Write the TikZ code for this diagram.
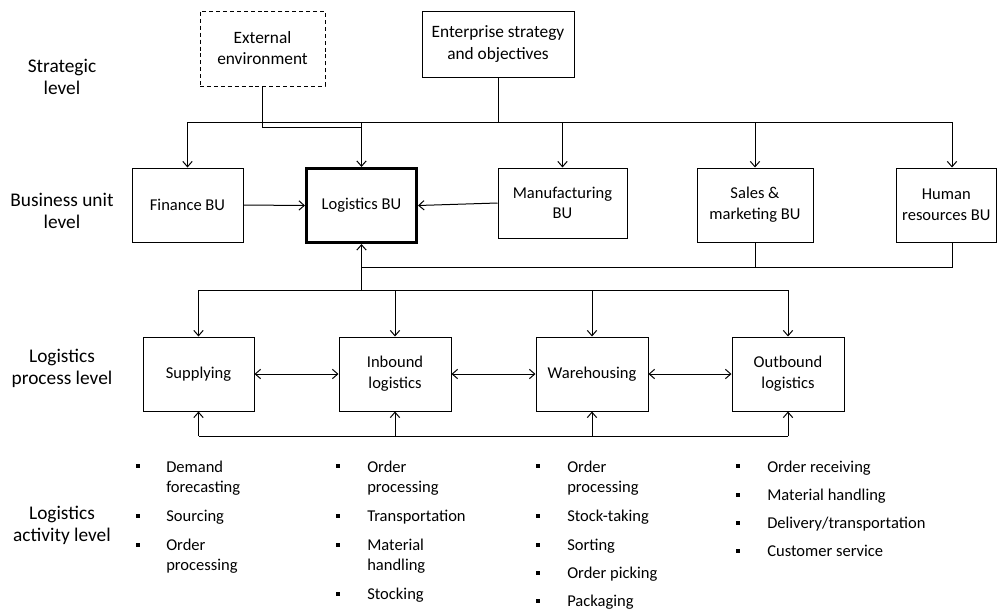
\documentclass[tikz,border=0pt]{standalone}
\usepackage{fontspec}
\setmainfont{Carlito}
\usetikzlibrary{arrows.meta}
\begin{document}
\begin{tikzpicture}[x=0.75pt,y=-0.75pt,
  every node/.style={font=\fontsize{12.4}{15.5}\selectfont},
  box/.style={draw, line width=0.75pt, align=center, inner sep=0pt},
  bx/.style 2 args={minimum width=#1*0.75pt, minimum height=#2*0.75pt},
  big/.style={font=\fontsize{13}{15.8}\selectfont},
  lab/.style={align=center, font=\fontsize{14.5}{16.5}\selectfont},
  item/.style={anchor=base west, inner sep=0pt},
  conn/.style={line width=0.75pt},
  arr/.style={conn, -{Straight Barb[length=4pt,width=7pt]}},
  arrr/.style={conn, {Straight Barb[length=4pt,width=7pt]}-{Straight Barb[length=4pt,width=7pt]}}
]
\useasboundingbox (0,0) rectangle (997,611);

% left labels
\node[lab] (l1) at (62,77) {Strategic\\level};
\node[lab] (l2) at (62,211) {Business unit\\level};
\node[lab] (l3) at (62,368) {Logistics\\process level};
\node[lab] (l4) at (62,525) {Logistics\\activity level};

% strategic
\node[box,big,dashed,dash pattern=on 3pt off 2.2pt,bx={125}{75}] (ext) at (262.5,48.5) {External\\environment};
\node[box,big,bx={152}{66}] (ent) at (498,44) {Enterprise strategy\\and objectives};

% business units
\node[box,bx={111}{74}] (fin) at (187.5,205) {Finance BU};
\node[box,line width=2.25pt,bx={110}{74}] (log) at (361.5,205.5) {Logistics BU};
\node[box,bx={129}{70}] (man) at (562.5,203) {Manufacturing\\BU};
\node[box,bx={116}{74}] (sal) at (755,205) {Sales \&\\marketing BU};
\node[box,bx={100}{74}] (hr) at (946.3,205) {Human\\resources BU};

% processes
\node[box,bx={111}{74}] (sup) at (198.5,374) {Supplying};
\node[box,bx={112}{74}] (inb) at (395,374) {Inbound\\logistics};
\node[box,bx={112}{74}] (war) at (592,374) {Warehousing};
\node[box,bx={112}{74}] (out) at (788,374) {Outbound\\logistics};

% coordinates
\coordinate (h1) at (0,122);
\coordinate (hL) at (187.5,122);
\coordinate (hR) at (952,122);
\coordinate (h2) at (0,267);
\coordinate (h3) at (0,290);
\coordinate (h4) at (0,436);

% strategic connectors
\draw[conn] (ent.south) -- (ent.south |- h1);
\draw[conn] (hL) -- (hR);
\draw[arr] (fin.north |- h1) -- (fin.north);
\draw[arr] (log.north |- h1) -- (log.north);
\draw[arr] (man.north |- h1) -- (man.north);
\draw[arr] (sal.north |- h1) -- (sal.north);
\draw[arr] (hR) -- (hR |- hr.north);
\draw[conn] (ext.south) -- ++(0,41) -| (log.north |- h1);

% BU connectors
\draw[arr] (fin.east) -- (log.west);
\draw[arr] (man.west) -- (log.east);
\draw[conn] (sal.south) -- (sal.south |- h2);
\draw[conn] (hR |- hr.south) -- (hR |- h2) -- (log.south |- h2);
\draw[arr] (log.south |- h3) -- (log.south);

% process connectors
\draw[conn] (sup.north |- h3) -- (out.north |- h3);
\draw[arr] (sup.north |- h3) -- (sup.north);
\draw[arr] (inb.north |- h3) -- (inb.north);
\draw[arr] (war.north |- h3) -- (war.north);
\draw[arr] (out.north |- h3) -- (out.north);
\draw[arrr] (sup.east) -- (inb.west);
\draw[arrr] (inb.east) -- (war.west);
\draw[arrr] (war.east) -- (out.west);
\draw[conn] (sup.south |- h4) -- (out.south |- h4);
\draw[arr] (sup.south |- h4) -- (sup.south);
\draw[arr] (inb.south |- h4) -- (inb.south);
\draw[arr] (war.south |- h4) -- (war.south);
\draw[arr] (out.south |- h4) -- (out.south);

% bullets
\foreach \x/\y in {138/466,138/516,138/545,
                   338/466,338/516,338/545,338/594,
                   538/466,538/516,538/545,538/573,538/601,
                   738/466,738/495,738/523,738/551}
  \fill (\x-1.6,\y-2) rectangle (\x+1.6,\y+2);

% column 1
\node[item] (a1) at (166,472) {Demand};
\node[item] (a2) at (166,492) {forecasting};
\node[item] (a3) at (166,521) {Sourcing};
\node[item] (a4) at (166,550) {Order};
\node[item] (a5) at (166,570) {processing};
% column 2
\node[item] (b1) at (367,472) {Order};
\node[item] (b2) at (367,492) {processing};
\node[item] (b3) at (367,521) {Transportation};
\node[item] (b4) at (367,550) {Material};
\node[item] (b5) at (367,570) {handling};
\node[item] (b6) at (367,599) {Stocking};
% column 3
\node[item] (c1) at (567,472) {Order};
\node[item] (c2) at (567,492) {processing};
\node[item] (c3) at (567,521) {Stock-taking};
\node[item] (c4) at (567,550) {Sorting};
\node[item] (c5) at (567,578) {Order picking};
\node[item] (c6) at (567,606) {Packaging};
% column 4
\node[item] (d1) at (767,472) {Order receiving};
\node[item] (d2) at (767,500) {Material handling};
\node[item] (d3) at (767,528) {Delivery/transportation};
\node[item] (d4) at (767,556) {Customer service};
\end{tikzpicture}
\end{document}
